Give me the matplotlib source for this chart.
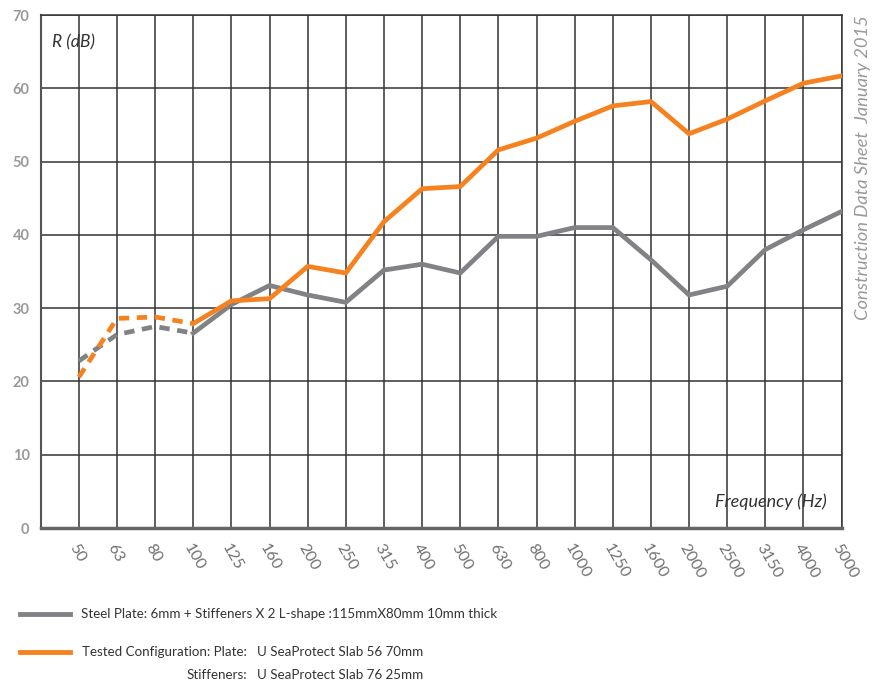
import matplotlib.pyplot as plt
from matplotlib.lines import Line2D

# Sound reduction index R (dB) per 1/3 octave band
freqs = ['50', '63', '80', '100', '125', '160', '200', '250', '315', '400', '500',
         '630', '800', '1000', '1250', '1600', '2000', '2500', '3150', '4000', '5000']
steel_plate = [22.8, 26.4, 27.5, 26.6, 30.5, 33.1, 31.8, 30.8, 35.2, 36.0, 34.8,
               39.8, 39.8, 41.0, 41.0, 36.6, 31.8, 33.0, 38.0, 40.7, 43.2]
tested_config = [20.6, 28.6, 28.8, 27.9, 31.0, 31.3, 35.7, 34.8, 41.8, 46.3, 46.6,
                 51.6, 53.2, 55.5, 57.6, 58.2, 53.8, 55.8, 58.3, 60.7, 61.7]
yticks = [0, 10, 20, 30, 40, 50, 60, 70]

ORANGE = '#F5821F'
GRAY = '#808285'
GRID = '#333333'

plt.rcParams['font.family'] = ['Lato', 'DejaVu Sans']

fig = plt.figure(figsize=(8.85, 6.84), dpi=100)
ax = fig.add_axes([0.046, 0.228, 0.905, 0.750])

xs = list(range(1, len(freqs) + 1))
n_dash = 4  # first bands (50-100 Hz) drawn dashed

for vals, col in [(steel_plate, GRAY), (tested_config, ORANGE)]:
    ax.plot(xs[:n_dash], vals[:n_dash], color=col, lw=3.4, ls=(0, (2.2, 1.6)),
            solid_capstyle='butt', zorder=3)
    ax.plot(xs[n_dash - 1:], vals[n_dash - 1:], color=col, lw=3.4,
            solid_joinstyle='miter', zorder=3)

ax.set_xlim(0, len(freqs))
ax.set_ylim(0, 70)

# grid
for x in xs:
    ax.axvline(x, color=GRID, lw=1.1, zorder=1)
for y in yticks[1:]:
    ax.axhline(y, color=GRID, lw=1.1, zorder=1)

ax.set_xticks(xs)
ax.set_xticklabels(freqs, rotation=-60, ha='left', va='top', rotation_mode='anchor',
                   color='#707070', fontsize=11.5)
ax.set_yticks(yticks)
ax.set_yticklabels([str(v) for v in yticks], color='#999999', fontsize=10.5, fontweight='bold')
ax.tick_params(axis='both', length=0)
ax.tick_params(axis='x', pad=10)
ax.tick_params(axis='y', pad=8)

for side in ['top', 'right']:
    ax.spines[side].set_color(GRID)
    ax.spines[side].set_linewidth(1.1)
ax.spines['left'].set_color('#555555')
ax.spines['left'].set_linewidth(1.5)
ax.spines['bottom'].set_color('#666666')
ax.spines['bottom'].set_linewidth(2.5)

ax.text(0.014, 0.962, 'R (dB)', transform=ax.transAxes, style='italic',
        fontsize=12.5, color='#333333', va='top', ha='left')
ax.text(0.982, 0.035, 'Frequency (Hz)', transform=ax.transAxes, style='italic',
        fontsize=13, color='#333333', va='bottom', ha='right')

fig.text(0.975, 0.978, 'Construction Data Sheet  January 2015', rotation=90,
         style='italic', color='#999999', fontsize=13.2, ha='center', va='top')

# legend drawn by hand
fig.add_artist(Line2D([0.023, 0.079], [1 - 614 / 684] * 2, color=GRAY, lw=3.5,
                      transform=fig.transFigure))
fig.add_artist(Line2D([0.023, 0.079], [1 - 652 / 684] * 2, color=ORANGE, lw=3.5,
                      transform=fig.transFigure))
leg_kw = dict(fontsize=9.6, color='#333333', va='center')
fig.text(0.091, 1 - 614 / 684, 'Steel Plate: 6mm + Stiffeners X 2 L-shape :115mmX80mm 10mm thick',
         ha='left', **leg_kw)
fig.text(0.279, 1 - 652 / 684, 'Tested Configuration: Plate:', ha='right', **leg_kw)
fig.text(0.290, 1 - 652 / 684, 'U SeaProtect Slab 56 70mm', ha='left', **leg_kw)
fig.text(0.279, 1 - 675 / 684, 'Stiffeners:', ha='right', **leg_kw)
fig.text(0.290, 1 - 675 / 684, 'U SeaProtect Slab 76 25mm', ha='left', **leg_kw)

fig.savefig('out.png', dpi=100)
